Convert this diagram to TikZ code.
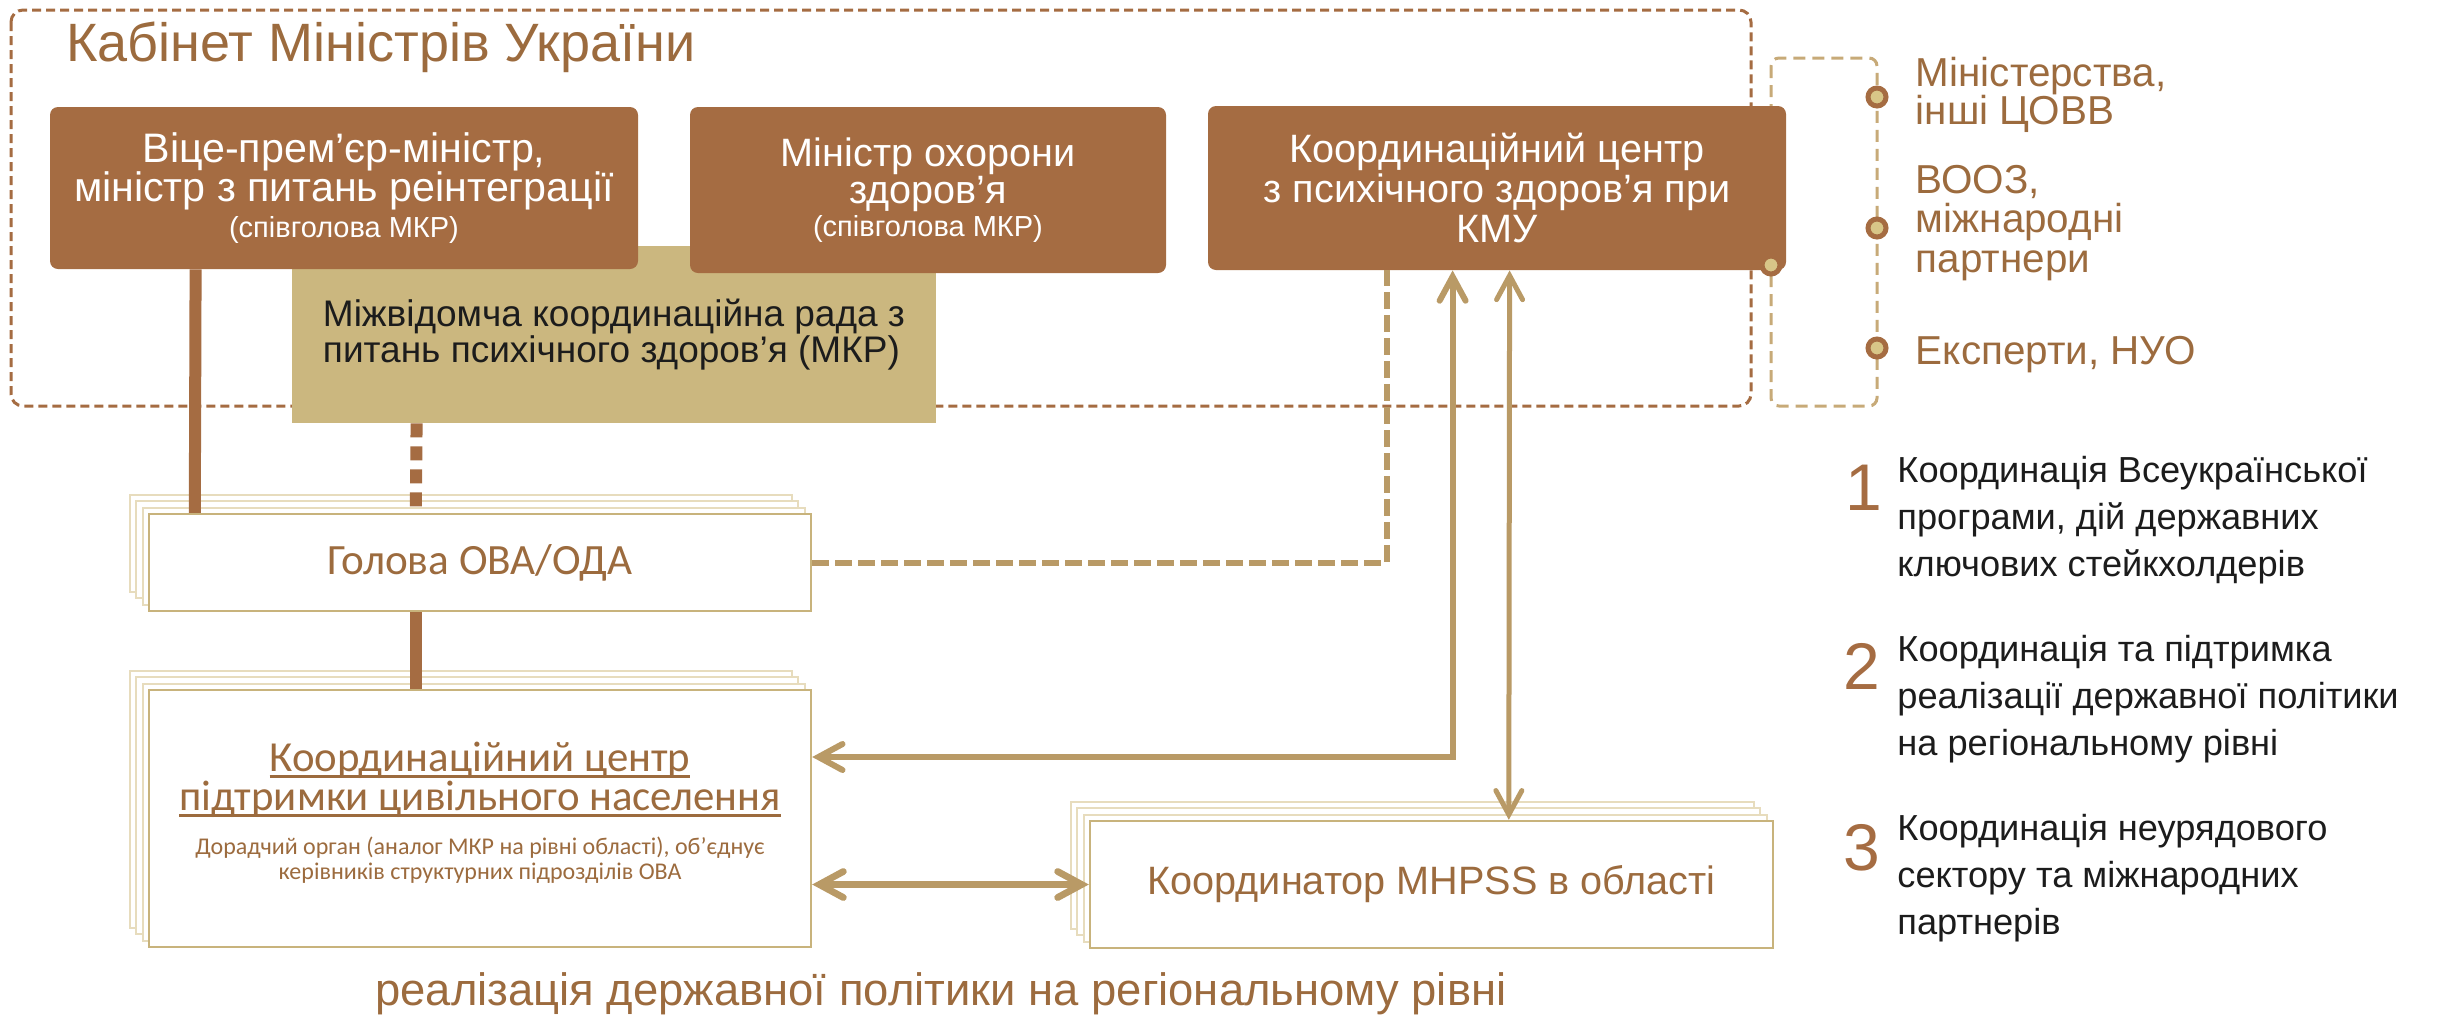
\documentclass[tikz,border=0pt]{standalone}
\usepackage{fontspec}
\setmainfont{Liberation Sans}
\newfontfamily\calfont{Carlito}
\usetikzlibrary{arrows.meta, positioning, shadows}

\definecolor{brownbox}{HTML}{A56C42}
\definecolor{tanbox}{HTML}{CBB77F}
\definecolor{tanline}{HTML}{B99A66}
\definecolor{stackfront}{HTML}{C8B37C}
\definecolor{stackback}{HTML}{E7DCBD}
\definecolor{browntext}{HTML}{9C6B3E}
\definecolor{dotfill}{HTML}{D8C688}
\definecolor{bracketline}{HTML}{C7AA78}
\definecolor{listtext}{HTML}{1C1C1C}

% underline drawn through the descenders
\newcommand\kcline[1]{\setbox0\hbox{#1}\rlap{\vrule height -0.09em depth 0.15em width \wd0}\box0}

\tikzset{
  headbox/.style={fill=brownbox, rounded corners=4pt, text=white, align=center,
    inner sep=0pt, font=\fontsize{19.8}{19.8}\selectfont},
  councilbox/.style={fill=tanbox, text=listtext, align=left, inner sep=0pt,
    font=\fontsize{18.5}{17.7}\selectfont},
  stackbox/.style={draw=stackfront, line width=1.2pt, fill=white, inner sep=0pt,
    text=browntext, align=center,
    general shadow={shadow xshift=-9.6pt, shadow yshift=9.6pt, draw=stackback, fill=white, line width=1pt},
    general shadow={shadow xshift=-6.4pt, shadow yshift=6.4pt, draw=stackback, fill=white, line width=1pt},
    general shadow={shadow xshift=-3.2pt, shadow yshift=3.2pt, draw=stackback, fill=white, line width=1pt}},
  stacktext/.style={text=browntext, align=center, inner sep=0pt},
  dot/.style={circle, fill=dotfill, draw=brownbox, line width=2.5pt, minimum size=9pt, inner sep=0pt},
  legendtext/.style={text=browntext, align=left, inner sep=0pt, font=\fontsize{20.2}{19}\selectfont},
  listnum/.style={text=brownbox, inner sep=0pt, font=\fontsize{33}{33}\selectfont},
  listtxt/.style={text=listtext, align=left, inner sep=0pt, font=\fontsize{18.1}{23.5}\selectfont},
  govline/.style={draw=brownbox, line width=6pt},
  govdash/.style={govline, dash pattern=on 7pt off 4.5pt},
  tandash/.style={draw=tanline, line width=3pt, dash pattern=on 8.5pt off 3pt},
  tanarrow/.style={draw=tanline, line width=3pt,
    {Straight Barb[length=12pt, width=13pt, line cap=round]}-{Straight Barb[length=12pt, width=13pt, line cap=round]}}
}

\begin{document}
\begin{tikzpicture}[x=0.5pt, y=-0.5pt]
\useasboundingbox (0,0) rectangle (2458,1018);

% frames
\draw[brownbox, line width=1.5pt, dash pattern=on 4.5pt off 2.5pt, rounded corners=6pt] (11,10) rectangle (1751,406);
\draw[bracketline, line width=1.5pt, dash pattern=on 6pt off 3.5pt, rounded corners=4pt] (1771,58) rectangle (1877,406);

\node[anchor=west, text=browntext, inner sep=0pt, font=\fontsize{27}{27}\selectfont] (cmu) at (66,47) {Кабінет Міністрів України};

% top level
\node[councilbox, minimum width=322pt, minimum height=88.5pt] (mkr) at (614,334.5)
  {Міжвідомча координаційна рада з\\питань психічного здоров’я (МКР)};
\node[headbox, minimum width=294pt, minimum height=81pt, font=\fontsize{20.6}{19.8}\selectfont] (vpm) at (344,188)
  {Віце-прем’єр-міністр,\\міністр з питань реінтеграції\\[-2pt]{\fontsize{14.5}{14}\selectfont(співголова МКР)}};
\node[headbox, minimum width=238pt, minimum height=83pt, font=\fontsize{19.8}{17}\selectfont] (moz) at (928,190)
  {Міністр охорони\\здоров’я\\[-0.5pt]{\fontsize{14.5}{14}\selectfont(співголова МКР)}};
\node[headbox, minimum width=289pt, minimum height=82pt] (kc) at (1497,188)
  {Координаційний центр\\з психічного здоров’я при\\КМУ};

% partners
\node[dot] (kdot) at (1771,265) {};
\node[dot] (b1) at (1877,97) {};
\node[dot] (b2) at (1877,228) {};
\node[dot] (b3) at (1877,348) {};
\node[legendtext, right=13.5pt of b1, yshift=1pt] (l1) {Міністерства,\\інші ЦОВВ};
\node[legendtext, right=13.5pt of b2, yshift=2.5pt, font=\fontsize{20.2}{19.8}\selectfont] (l2) {ВООЗ,\\міжнародні\\партнери};
\node[legendtext, right=13.5pt of b3, yshift=-3.5pt] (l3) {Експерти, НУО};

% regional level
\node[stackbox, minimum width=331pt, minimum height=48.5pt, font=\calfont\fontsize{21.6}{21.6}\selectfont] (hol) at (480,562.5) {Голова ОВА/ОДА};
\node[stackbox, minimum width=331pt, minimum height=128.5pt] (kcp) at (480,818.5) {};
\node[stacktext, font=\calfont\fontsize{21.4}{19.5}\selectfont] (kcptitle) at ([yshift=19.5pt]kcp.center)
  {\kcline{Координаційний центр}\\\kcline{підтримки цивільного населення}};
\node[stacktext, font=\calfont\fontsize{12}{12.5}\selectfont] (kcpnote) at ([yshift=-21pt]kcp.center)
  {Дорадчий орган (аналог МКР на рівні області), об’єднує\\керівників структурних підрозділів ОВА};
\node[stackbox, minimum width=341.5pt, minimum height=63.5pt, font=\fontsize{19.8}{19.8}\selectfont] (mhpss) at (1431.5,884.5) {Координатор MHPSS в області};

\node[anchor=base west, text=browntext, inner sep=0pt, font=\fontsize{22.7}{22.7}\selectfont] (caption) at (375,1005)
  {реалізація державної політики на регіональному рівні};

% connectors
\draw[govline] ([xshift=73pt]vpm.south west) -- ([xshift=23.5pt]hol.north west);
\draw[govdash] ([xshift=62.5pt]mkr.south west) -- ([xshift=134pt]hol.north west);
\draw[govline] ([xshift=134pt]hol.south west) -- ([xshift=134pt]kcp.north west);
\draw[tandash] (hol.east) -| ([xshift=89.5pt]kc.south west);
\draw[tanarrow] ([xshift=122.5pt]kc.south west) |- ([yshift=30.75pt]kcp.east);
\draw[tanarrow, line width=2.5pt] ([xshift=151pt]kc.south west) -- ([xshift=210pt]mhpss.north west);
\draw[tanarrow, line width=3.4pt] (kcp.east |- mhpss.west) -- (mhpss.west);

% list
\node[listnum] (n1) at (1864,488) {1};
\node[listnum] (n2) at (1862,666) {2};
\node[listnum] (n3) at (1862,848) {3};
\node[listtxt, anchor=west] (t1) at (1897,520) {Координація Всеукраїнської\\програми, дій державних\\ключових стейкхолдерів};
\node[listtxt, anchor=west] (t2) at (1897,699) {Координація та підтримка\\реалізації державної політики\\на регіональному рівні};
\node[listtxt, anchor=west] (t3) at (1897,878) {Координація неурядового\\сектору та міжнародних\\партнерів};
\end{tikzpicture}
\end{document}
